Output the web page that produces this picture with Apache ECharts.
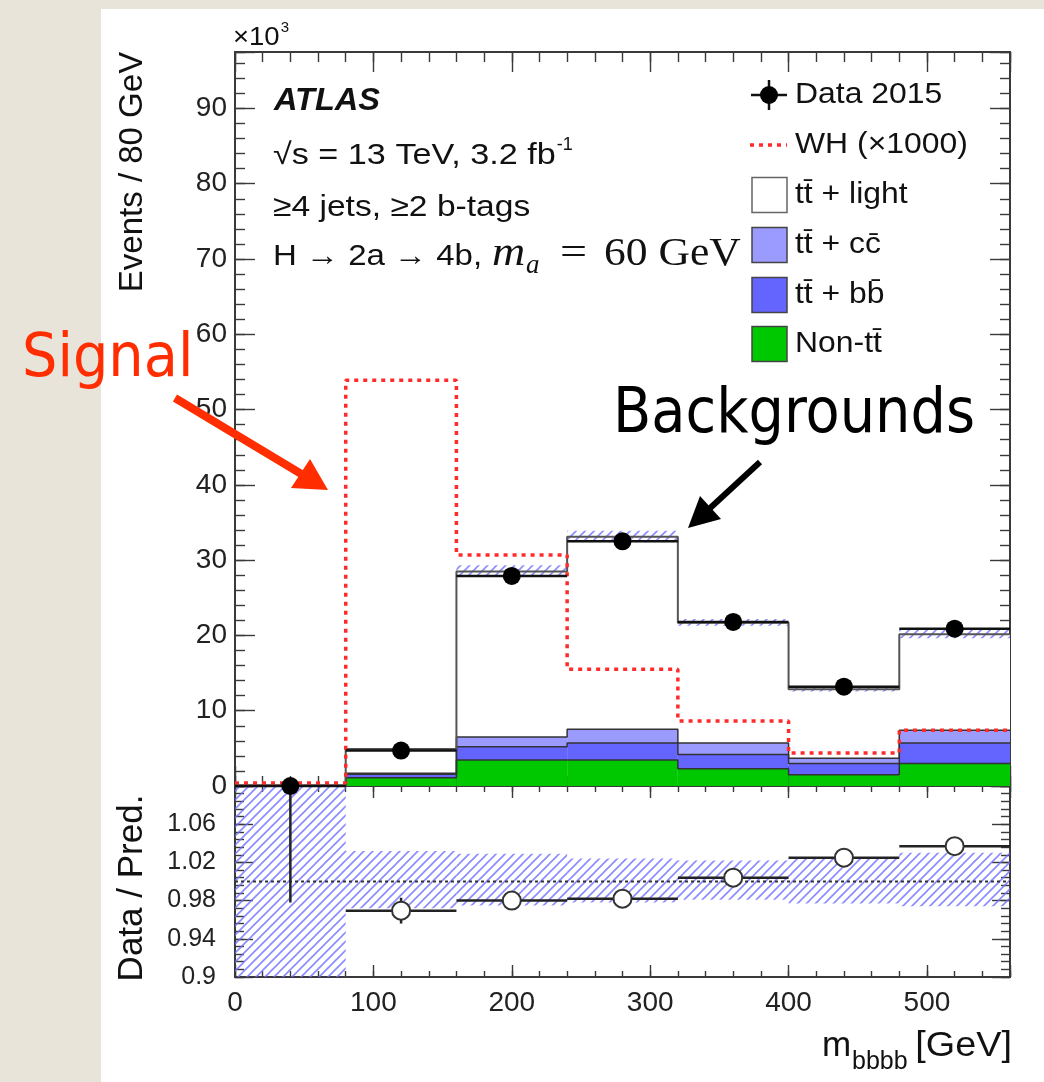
<!DOCTYPE html>
<html>
<head>
<meta charset="utf-8">
<script src="https://cdn.jsdelivr.net/npm/echarts@6/dist/echarts.min.js"></script>
<style>
html,body{margin:0;padding:0;background:#e8e4da;}
#c{width:1044px;height:1082px;}
</style>
</head>
<body>
<div id="c"></div>
<script>
// ---------------- data (×10^3 events per 80 GeV bin) ----------------
const binEdges  = [0, 80, 160, 240, 320, 400, 480, 560];
const nonTT     = [0.02, 1.10, 3.45, 3.45, 2.30, 1.50, 3.00];
const ttbb      = [0.01, 0.45, 1.75, 2.25, 1.90, 1.50, 2.70];
const ttcc      = [0.01, 0.15, 1.30, 1.85, 1.50, 0.70, 1.70];
const ttlight   = [0.05, 3.20, 22.0, 25.55, 16.0, 9.15, 12.75];
const signalWH  = [0.4, 53.9, 30.7, 15.5, 8.65, 4.4, 7.4];
const data2015  = [0, 4.7, 27.9, 32.5, 21.8, 13.2, 20.9];
// ratio panel
const ratio        = [null, 0.9695, 0.980, 0.982, 1.004, 1.025, 1.037];
const ratioBarLow  = [0.978, 0.956, 0.975, 0.977, 0.999, 1.018, 1.030];
const ratioBarHigh = [1.100, 0.983, 0.985, 0.987, 1.009, 1.032, 1.044];
const bandLow      = [0.900, 0.972, 0.975, 0.978, 0.981, 0.977, 0.974];
const bandHigh     = [1.100, 1.032, 1.029, 1.024, 1.022, 1.025, 1.030];
// axes
const yMainMax = 97.5;
const ratioMin = 0.9, ratioMax = 1.1;
const legendLabels = ['Data 2015', 'WH (\u00d71000)', 'tt\u0304 + light', 'tt\u0304 + cc\u0304', 'tt\u0304 + bb\u0304', 'Non-tt\u0304'];

// ---------------- helpers ----------------
const FR = '#3a3a3a';
const SANS = 'Liberation Sans';
const nb = data2015.length;
const centers = binEdges.slice(0, nb).map((e, i) => (e + binEdges[i + 1]) / 2);

const mctx = document.createElement('canvas').getContext('2d');
function textW(text, size, family, style, weight) {
  mctx.font = (style || 'normal') + ' ' + (weight || 'normal') + ' ' + size + 'px "' + (family || SANS) + '"';
  return mctx.measureText(text).width;
}

function hatch(color, size, lw) {
  const c = document.createElement('canvas');
  c.width = size; c.height = size;
  const g = c.getContext('2d');
  g.strokeStyle = color; g.lineWidth = lw;
  g.beginPath();
  g.moveTo(-1, size + 1); g.lineTo(size + 1, -1);
  g.moveTo(-1, 1); g.lineTo(1, -1);
  g.moveTo(size - 1, size + 1); g.lineTo(size + 1, size - 1);
  g.stroke();
  return c;
}
const hatchImg = hatch('rgba(110,110,255,0.8)', 9, 1.6);

function axis(grid, pos, min, max, interval, len, label) {
  return {
    type: 'value', gridIndex: grid, position: pos, min: min, max: max, interval: interval,
    splitLine: { show: false },
    axisLine: { show: true, onZero: false, lineStyle: { color: FR, width: 2 } },
    axisTick: { show: true, inside: true, length: len, lineStyle: { color: FR, width: 1.4 } },
    minorTick: { show: false },
    axisLabel: label || { show: false }
  };
}

function rectSeries(rows, xi, yi, style, z) {
  return {
    type: 'custom', xAxisIndex: xi, yAxisIndex: yi, z: z, silent: true,
    data: rows, encode: { x: [0, 1], y: [2, 3] },
    renderItem: function (params, api) {
      const a = api.coord([api.value(0), api.value(3)]);
      const b = api.coord([api.value(1), api.value(2)]);
      return { type: 'rect', shape: { x: a[0], y: a[1], width: b[0] - a[0], height: b[1] - a[1] },
               style: Object.assign({}, style) };
    }
  };
}
function segSeries(rows, xi, yi, stroke, lw, z) {
  return {
    type: 'custom', xAxisIndex: xi, yAxisIndex: yi, z: z, silent: true,
    data: rows, encode: { x: [0, 2], y: [1, 3] },
    renderItem: function (params, api) {
      const a = api.coord([api.value(0), api.value(1)]);
      const b = api.coord([api.value(2), api.value(3)]);
      return { type: 'line', shape: { x1: a[0], y1: a[1], x2: b[0], y2: b[1] },
               style: { stroke: stroke, lineWidth: lw } };
    }
  };
}
function stepData(vals) {
  const d = vals.map((v, i) => [binEdges[i], v]);
  d.push([binEdges[vals.length], vals[vals.length - 1]]);
  return d;
}
function stepLine(vals, color, width, type, z) {
  return { type: 'line', step: 'end', xAxisIndex: 0, yAxisIndex: 0, data: stepData(vals),
           symbol: 'none', silent: true, z: z,
           lineStyle: { color: color, width: width, type: type || 'solid', cap: 'butt' } };
}

// stacked backgrounds
const layers = [nonTT, ttbb, ttcc, ttlight];
const layerColors = ['#00c800', '#6464ff', '#9b9bff', '#ffffff'];
const cum = [];
let run = new Array(nb).fill(0);
layers.forEach(l => {
  const lo = run.slice();
  run = run.map((v, i) => v + l[i]);
  cum.push({ lo: lo, hi: run.slice() });
});
const total = cum[3].hi;

const series = [];
cum.forEach((c, k) => {
  const rows = c.lo.map((lo, i) => [binEdges[i], binEdges[i + 1], lo, c.hi[i]]);
  series.push(rectSeries(rows, 0, 0, { fill: layerColors[k] }, 1));
});
// MC uncertainty hatch on main panel
series.push(rectSeries(total.map((t, i) => [binEdges[i], binEdges[i + 1], t * bandLow[i], t * bandHigh[i]]),
  0, 0, { fill: { image: hatchImg, repeat: 'repeat' } }, 2));
// outlines
series.push(stepLine(cum[0].hi, '#333', 1.5, 'solid', 3));
series.push(stepLine(cum[1].hi, '#333', 1.5, 'solid', 3));
series.push(stepLine(cum[2].hi, '#333', 1.5, 'solid', 3));
series.push(stepLine(total, '#555', 2, 'solid', 3));
// signal
series.push(stepLine(signalWH, '#ff2a2a', 3.5, [4, 5], 4));
// data x-error bars and points
series.push(segSeries(data2015.map((v, i) => [binEdges[i], v, binEdges[i + 1], v]), 0, 0, '#111', 2.5, 5));
series.push({ type: 'scatter', xAxisIndex: 0, yAxisIndex: 0, z: 6, silent: true,
  symbol: 'circle', symbolSize: 18, itemStyle: { color: '#000', opacity: 1 },
  data: data2015.map((v, i) => [centers[i], v]) });

// ratio panel (axis 4 / 4): values plotted relative to ratioMin
const RB = ratioMin;
series.push(rectSeries(bandLow.map((lo, i) => [binEdges[i], binEdges[i + 1],
  Math.max(lo, ratioMin) - RB, Math.min(bandHigh[i], ratioMax) - RB]),
  4, 4, { fill: { image: hatchImg, repeat: 'repeat' } }, 1));
series.push({ type: 'line', xAxisIndex: 4, yAxisIndex: 4, z: 2, silent: true, symbol: 'none',
  data: [[binEdges[0], 1 - RB], [binEdges[nb], 1 - RB]],
  lineStyle: { color: '#333', width: 2, type: [3, 3] } });
const rIdx = ratio.map((r, i) => i).filter(i => ratio[i] !== null);
series.push(segSeries(rIdx.map(i => [binEdges[i], ratio[i] - RB, binEdges[i + 1], ratio[i] - RB]), 4, 4, '#222', 2.5, 3));
series.push(segSeries(ratioBarLow.map((lo, i) => [centers[i], Math.max(lo, ratioMin) - RB, centers[i], Math.min(ratioBarHigh[i], ratioMax) - RB]), 4, 4, '#222', 2.5, 3));
series.push({ type: 'scatter', xAxisIndex: 4, yAxisIndex: 4, z: 4, silent: true,
  symbol: 'circle', symbolSize: 18,
  itemStyle: { color: '#ffffff', borderColor: '#333', borderWidth: 2, opacity: 1 },
  data: rIdx.map(i => [centers[i], ratio[i] - RB]) });

// ---------------- axes ----------------
const mainGrid = { left: 235, top: 52, width: 775, height: 734 };
const ratGrid = { left: 235, top: 786, width: 775, height: 191 };
const xMax = binEdges[nb];
const xLab = { show: true, fontSize: 28, color: '#222', fontFamily: SANS, margin: 12,
  formatter: v => (Math.abs(v % 100) < 1e-6 ? String(v) : '') };
const yLab = { show: true, fontSize: 28, color: '#222', fontFamily: SANS, margin: 8,
  formatter: v => (Math.abs(v % 10) < 1e-6 ? String(v) : '') };
const rLab = { show: true, fontSize: 25, color: '#222', fontFamily: SANS, margin: 19,
  formatter: v => { const r = +(v + RB).toFixed(3); return r > 1.08 ? '' : String(+r.toFixed(2)); } };

const xAxes = [
  axis(0, 'bottom', 0, xMax, 100, 20), axis(0, 'bottom', 0, xMax, 20, 10),
  axis(0, 'top', 0, xMax, 100, 20), axis(0, 'top', 0, xMax, 20, 10),
  axis(1, 'bottom', 0, xMax, 100, 12, xLab), axis(1, 'bottom', 0, xMax, 20, 6),
  axis(1, 'top', 0, xMax, 100, 12), axis(1, 'top', 0, xMax, 20, 6)
];
const rSpan = +(ratioMax - ratioMin).toFixed(3);
const yAxes = [
  axis(0, 'left', 0, yMainMax, 10, 20, yLab), axis(0, 'left', 0, yMainMax, 2, 10),
  axis(0, 'right', 0, yMainMax, 10, 20), axis(0, 'right', 0, yMainMax, 2, 10),
  axis(1, 'left', 0, rSpan, 0.04, 18, rLab), axis(1, 'left', 0, rSpan, 0.008, 9),
  axis(1, 'right', 0, rSpan, 0.04, 18), axis(1, 'right', 0, rSpan, 0.008, 9)
];

// ---------------- text / legend graphics ----------------
function T(text, x, y, size, o) {
  o = o || {};
  return { type: 'text', x: x, y: y, scaleX: o.sx || 1, rotation: o.rot || 0, z: 100, silent: true,
    style: { text: text, fontSize: size, fontFamily: o.ff || SANS, fontStyle: o.fs || 'normal',
      fontWeight: o.fw || 'normal', fill: o.fill || '#111', align: o.align || 'left',
      verticalAlign: o.va || 'middle' } };
}
const g = [];
g.push({ type: 'rect', z: -100, silent: true, shape: { x: 101, y: 9, width: 1044 - 101, height: 1082 - 9 },
  style: { fill: '#ffffff' } });
// axis titles
g.push(T('Events / 80 GeV', 133, 172, 33, { rot: Math.PI / 2, align: 'center' }));
g.push(T('Data / Pred.', 132, 888, 35, { rot: Math.PI / 2, align: 'center' }));
g.push(T('m', 822, 1046, 35));
g.push(T('bbbb', 852, 1062, 25));
g.push(T('[GeV]', 1012, 1046, 35, { align: 'right', sx: 1.08 }));
const x10 = '\u00d710';
g.push(T(x10, 233, 38, 25, { sx: 1.1 }));
g.push(T('3', 233 + textW(x10, 25) * 1.1 + 1, 28, 15));
// plot labels
g.push(T('ATLAS', 274, 101, 31, { fw: 'bold', fs: 'italic', sx: 1.05 }));
const rs = '\u221as = 13 TeV, 3.2 fb';
g.push(T(rs, 273, 156, 30, { sx: 1.14 }));
g.push(T('-1', 273 + textW(rs, 30) * 1.14 + 1, 145, 18));
g.push(T('\u22654 jets, \u22652 b-tags', 273, 208, 30, { sx: 1.12 }));
g.push(T('H \u2192 2a \u2192 4b,', 273, 257, 30, { sx: 1.1 }));
g.push(T('m', 492, 254, 40, { ff: 'Liberation Serif', fs: 'italic', sx: 1.15 }));
g.push(T('a', 526, 266, 27, { ff: 'Liberation Serif', fs: 'italic' }));
g.push(T('=', 560, 254, 40, { ff: 'Liberation Serif', sx: 1.2 }));
g.push(T('60 GeV', 604, 254, 40, { ff: 'Liberation Serif', sx: 1.09 }));
// legend
const legY = [95, 145, 195, 245, 295, 344];
legendLabels.forEach((s, i) => g.push(T(s, 795, legY[i], 29, { sx: 1.1 })));
g.push({ type: 'line', z: 100, silent: true, shape: { x1: 751, y1: legY[0], x2: 787, y2: legY[0] }, style: { stroke: '#111', lineWidth: 2.5 } });
g.push({ type: 'line', z: 100, silent: true, shape: { x1: 769, y1: legY[0] - 15, x2: 769, y2: legY[0] + 15 }, style: { stroke: '#111', lineWidth: 2.5 } });
g.push({ type: 'circle', z: 101, silent: true, shape: { cx: 769, cy: legY[0], r: 9 }, style: { fill: '#000' } });
g.push({ type: 'line', z: 100, silent: true, shape: { x1: 750, y1: legY[1], x2: 787, y2: legY[1] },
  style: { stroke: '#ff2a2a', lineWidth: 3.5, lineDash: [4, 5] } });
[3, 2, 1, 0].forEach((k, j) => {
  const y = legY[2 + j];
  g.push({ type: 'rect', z: 100, silent: true, shape: { x: 752, y: y - 17.5, width: 35, height: 35 },
    style: { fill: layerColors[k], stroke: k === 3 ? '#666' : '#444', lineWidth: 1.5 } });
});
// annotations
g.push(T('Signal', 22, 360, 60, { ff: 'DejaVu Sans', fill: '#ff2d00', sx: 0.93 }));
g.push({ type: 'line', z: 100, silent: true, shape: { x1: 175, y1: 398, x2: 303, y2: 475 },
  style: { stroke: '#ff2d00', lineWidth: 8 } });
g.push({ type: 'polygon', z: 100, silent: true, shape: { points: [[328, 490], [291, 488], [310, 459]] },
  style: { fill: '#ff2d00' } });
g.push(T('Backgrounds', 613, 416, 62, { ff: 'DejaVu Sans', fill: '#000', sx: 0.9 }));
g.push({ type: 'line', z: 100, silent: true, shape: { x1: 760, y1: 462, x2: 708, y2: 510 },
  style: { stroke: '#000', lineWidth: 6 } });
g.push({ type: 'polygon', z: 100, silent: true, shape: { points: [[688, 528], [700, 496], [721, 519]] },
  style: { fill: '#000' } });

const chart = echarts.init(document.getElementById('c'), null, { renderer: 'canvas', width: 1044, height: 1082 });
chart.setOption({
  animation: false,
  backgroundColor: '#e8e4da',
  grid: [mainGrid, ratGrid],
  xAxis: xAxes,
  yAxis: yAxes,
  series: series,
  graphic: { elements: g }
});
</script>
</body>
</html>
